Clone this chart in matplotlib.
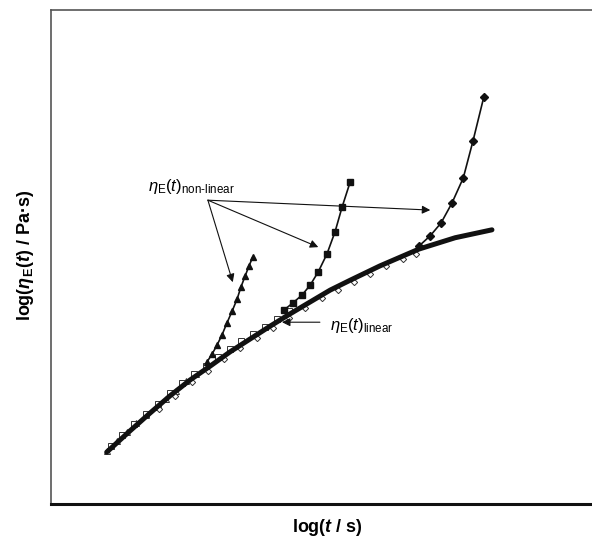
import matplotlib
matplotlib.use('Agg')
import matplotlib.pyplot as plt

plt.rcParams['font.family'] = ['Liberation Sans', 'DejaVu Sans']
plt.rcParams['mathtext.fontset'] = 'custom'
plt.rcParams['mathtext.rm'] = 'Liberation Sans'
plt.rcParams['mathtext.it'] = 'Liberation Sans:italic'
plt.rcParams['mathtext.bf'] = 'Liberation Sans:bold'
plt.rcParams['mathtext.bfit'] = 'Liberation Sans:italic:bold'

# linear viscoelastic envelope, log t vs log eta_E (arbitrary decades)
lin_x = [1.03, 1.46, 1.83, 2.20, 2.57, 2.94, 3.31, 3.68, 4.05, 4.42, 4.79, 5.16, 5.53, 6.08, 6.80, 7.47, 8.15]
lin_y = [1.05, 1.48, 1.84, 2.19, 2.51, 2.79, 3.08, 3.34, 3.60, 3.85, 4.09, 4.33, 4.53, 4.82, 5.16, 5.39, 5.55]

# measured points lying on the linear envelope (open symbols)
tri_open_x = [1.03, 1.22, 1.40, 1.58, 1.76, 1.95, 2.13, 2.31, 2.50, 2.68, 2.86]
tri_open_y = [1.08, 1.28, 1.46, 1.63, 1.80, 1.97, 2.13, 2.29, 2.48, 2.63, 2.76]
sq_open_x = [1.10, 1.32, 1.54, 1.76, 1.98, 2.20, 2.42, 2.64, 2.86, 3.08, 3.30, 3.52, 3.74, 3.96, 4.18, 4.40]
sq_open_y = [1.18, 1.40, 1.62, 1.83, 2.03, 2.25, 2.44, 2.63, 2.79, 2.98, 3.13, 3.29, 3.44, 3.58, 3.75, 3.90]
dia_open_x = [2.00, 2.30, 2.60, 2.90, 3.20, 3.50, 3.80, 4.10, 4.40, 4.70, 5.00, 5.30, 5.60, 5.90, 6.20, 6.50, 6.75]
dia_open_y = [1.92, 2.18, 2.46, 2.69, 2.93, 3.15, 3.36, 3.57, 3.77, 3.96, 4.16, 4.33, 4.50, 4.66, 4.81, 4.96, 5.07]

# strain hardening branches (filled symbols)
tri_x = [2.88, 2.98, 3.07, 3.16, 3.25, 3.35, 3.44, 3.51, 3.59, 3.66, 3.73]
tri_y = [2.87, 3.04, 3.22, 3.42, 3.66, 3.91, 4.15, 4.39, 4.62, 4.82, 5.00]
sq_x = [4.31, 4.47, 4.64, 4.79, 4.94, 5.10, 5.25, 5.38, 5.53]
sq_y = [3.93, 4.07, 4.23, 4.43, 4.70, 5.06, 5.51, 6.01, 6.52]
dia_x = [6.80, 7.01, 7.21, 7.41, 7.62, 7.80, 8.00]
dia_y = [5.22, 5.43, 5.69, 6.09, 6.60, 7.35, 8.24]

fig = plt.figure(figsize=(5.92, 5.41), dpi=100)
ax = fig.add_axes([51 / 592, 37 / 541, 0.9139, 494 / 541])

ms_open = 3.8
ax.plot(tri_open_x, tri_open_y, '^', mfc='white', mec='#333333', ms=ms_open, mew=0.7, ls='none')
ax.plot(sq_open_x, sq_open_y, 's', mfc='white', mec='#333333', ms=ms_open, mew=0.7, ls='none')
ax.plot(dia_open_x, dia_open_y, 'D', mfc='white', mec='#333333', ms=3.2, mew=0.7, ls='none')

ax.plot(lin_x, lin_y, '-', color='#111111', lw=3.6, solid_capstyle='round', solid_joinstyle='round')

ax.plot(tri_x, tri_y, '^-', color='#111111', ms=4.2, lw=1.2, solid_joinstyle='round')
ax.plot(sq_x, sq_y, 's-', color='#111111', ms=4.2, lw=1.2, solid_joinstyle='round')
ax.plot(dia_x, dia_y, 'D-', color='#111111', ms=3.6, lw=1.2, solid_joinstyle='round')

arrow = dict(arrowstyle='-|>', color='#111111', lw=0.8, mutation_scale=12, shrinkA=0, shrinkB=0)
tail = (2.90, 6.15)
for head in [(3.36, 4.49), (4.94, 5.20), (7.01, 5.95)]:
    ax.annotate('', xy=head, xytext=tail, arrowprops=arrow)
ax.text(1.79, 6.42, r'$\eta_{\mathrm{E}}(t)_{\text{non-linear}}$', fontsize=12, va='center', ha='left')

ax.annotate('', xy=(4.27, 3.68), xytext=(4.97, 3.68), arrowprops=arrow)
ax.text(5.16, 3.62, r'$\eta_{\mathrm{E}}(t)_{\text{linear}}$', fontsize=12, va='center', ha='left')

ax.set_xlim(0, 10)
ax.set_ylim(0, 10)
ax.set_xticks([])
ax.set_yticks([])
ax.spines['right'].set_visible(False)
ax.spines['top'].set_color('#555555')
ax.spines['left'].set_color('#555555')
ax.spines['top'].set_linewidth(1.2)
ax.spines['left'].set_linewidth(1.2)
ax.spines['bottom'].set_color('#111111')
ax.spines['bottom'].set_linewidth(2.2)

fig.text(327 / 592, 1 - 527 / 541, r'log($\mathbfit{t}$ / s)', fontsize=13, fontweight='bold',
         ha='center', va='center')
fig.text(26 / 592, 1 - 255 / 541, r'log($\mathbfit{\eta}_{\mathbf{E}}$($\mathbfit{t}$) / Pa·s)', fontsize=13,
         fontweight='bold', ha='center', va='center', rotation=90)

fig.savefig('out.png', dpi=100)
